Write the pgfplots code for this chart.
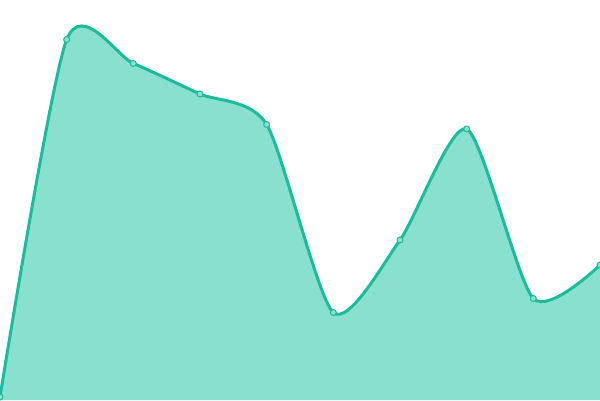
\documentclass[border=0pt]{standalone}
\usepackage{pgfplots}
\pgfplotsset{compat=1.18}
\definecolor{linec}{RGB}{26,188,156}
\definecolor{fillc}{RGB}{138,224,207}
\begin{document}
\begin{tikzpicture}
\begin{axis}[
  scale only axis,
  width=600bp, height=400bp,
  xmin=0, xmax=600, ymin=0, ymax=400,
  axis lines=none,
  ticks=none,
  clip=true,
  clip marker paths=true,
]
\addplot[draw=none, fill=fillc, smooth, tension=0.42] coordinates {
(0,3) (66.7,360.5) (133.3,336.5) (200,306) (266.7,275.5) (333.3,87.5) (400,160) (466.7,271) (533.3,101.5) (600,135)
} \closedcycle;
\addplot[draw=linec, line width=3bp, smooth, tension=0.42,
  mark=*, mark size=3bp, mark options={fill=fillc, draw=linec, line width=1bp}] coordinates {
(0,3) (66.7,360.5) (133.3,336.5) (200,306) (266.7,275.5) (333.3,87.5) (400,160) (466.7,271) (533.3,101.5) (600,135)
};
\end{axis}
\end{tikzpicture}
\end{document}
